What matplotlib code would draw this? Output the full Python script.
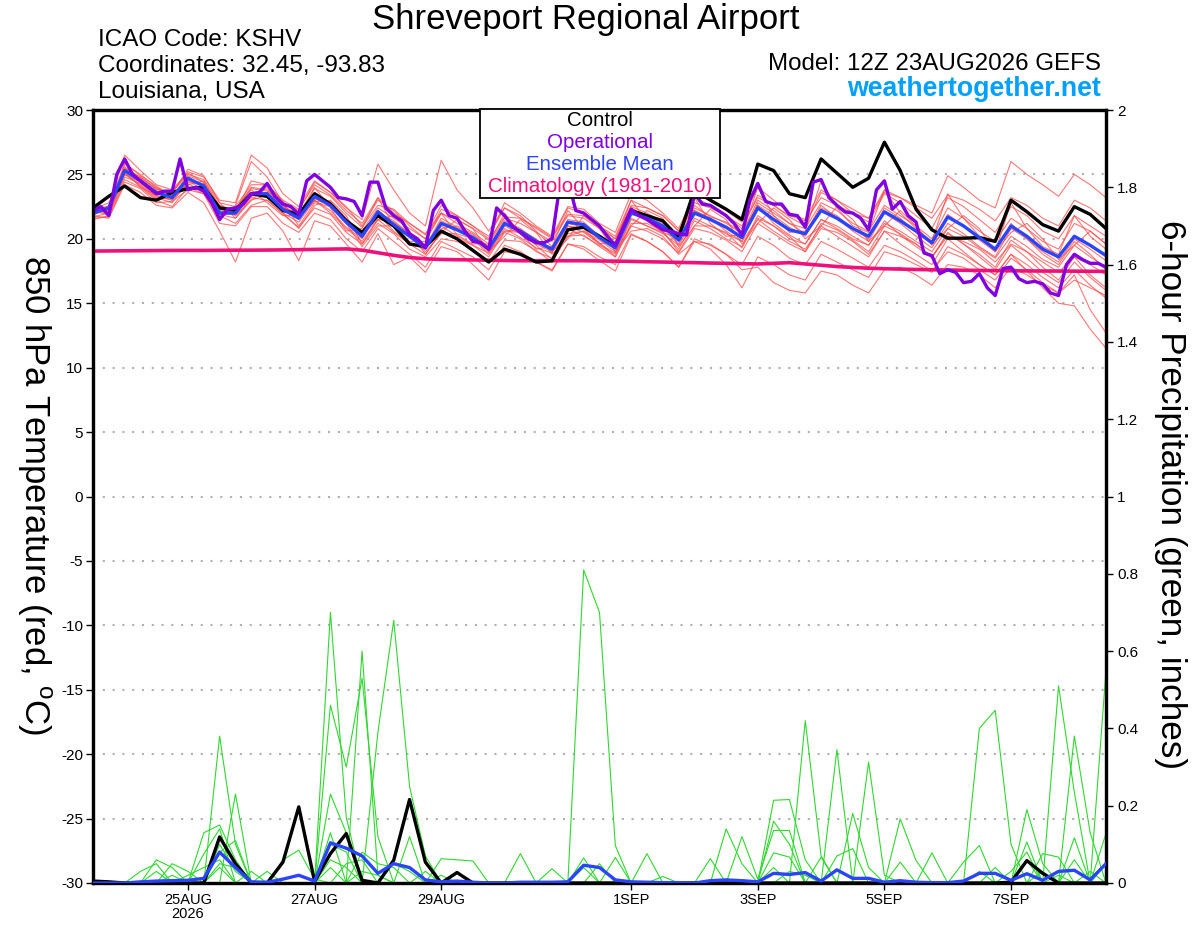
import numpy as np
import matplotlib
matplotlib.use('Agg')
import matplotlib.pyplot as plt
from matplotlib.patches import Rectangle

plt.rcParams['font.family'] = ['Liberation Sans', 'DejaVu Sans']
plt.rcParams['mathtext.fontset'] = 'custom'
plt.rcParams['mathtext.rm'] = 'Liberation Sans'
plt.rcParams['axes.unicode_minus'] = False

# TIME AXIS (hours after 12Z 23AUG2026)
hours = np.arange(0, 385, 6)
hours_op = np.arange(0, 385, 3)
tick_hours = [36, 84, 132, 204, 252, 300, 348]
tick_labels = ['25AUG\n2026', '27AUG', '29AUG', '1SEP', '3SEP', '5SEP', '7SEP']

# 850 hPa TEMPERATURE (C)
control_t = [22.4, 23.3, 24.1, 23.2, 23.0, 23.6, 23.9, 24.0, 22.4, 22.2, 23.5, 23.3, 22.2,
             21.9, 23.5, 22.7, 21.4, 20.5, 21.8, 21.0, 19.6, 19.4, 20.6, 20.0, 19.1, 18.2,
             19.2, 18.8, 18.2, 18.3, 20.7, 20.9, 20.2, 19.4, 22.2, 21.8, 21.4, 20.1, 23.8,
             23.0, 22.3, 21.5, 25.8, 25.3, 23.5, 23.2, 26.2, 25.1, 24.0, 24.7, 27.5, 25.3,
             22.3, 20.7, 20.05, 20.05, 20.1, 19.8, 23.0, 22.1, 21.1, 20.6, 22.5, 21.9, 20.8]

mean_t = [22.0, 22.4, 25.3, 24.5, 23.6, 23.2, 24.7, 24.1, 22.0, 22.0, 23.5, 23.5, 22.3,
          21.6, 23.3, 22.6, 21.3, 20.2, 22.1, 21.1, 20.2, 19.3, 21.2, 20.7, 20.1, 19.2,
          21.2, 20.6, 19.8, 19.2, 21.3, 21.1, 20.1, 19.3, 22.0, 21.6, 21.0, 19.9, 22.0,
          21.5, 20.9, 20.1, 22.4, 21.5, 20.7, 20.4, 22.2, 21.6, 20.8, 20.2, 22.1, 21.4,
          20.6, 19.7, 21.7, 21.0, 20.1, 19.2, 21.0, 20.2, 19.2, 18.6, 20.2, 19.5, 18.7]

clim_t = [19.05, 19.06, 19.07, 19.08, 19.09, 19.1, 19.1, 19.1, 19.11, 19.12, 19.12, 19.13, 19.14,
          19.16, 19.18, 19.2, 19.22, 19.12, 18.92, 18.72, 18.55, 18.45, 18.4, 18.38, 18.36, 18.34,
          18.32, 18.3, 18.3, 18.3, 18.3, 18.3, 18.28, 18.27, 18.25, 18.22, 18.2, 18.17, 18.15,
          18.12, 18.1, 18.07, 18.05, 18.1, 18.15, 18.05, 17.95, 17.85, 17.78, 17.72, 17.68, 17.65,
          17.62, 17.6, 17.58, 17.56, 17.55, 17.53, 17.52, 17.51, 17.5, 17.5, 17.49, 17.48, 17.47]

# operational run, 3-hourly
oper_t = [22.2, 22.5, 21.8, 25.0, 26.2, 25.0, 24.5, 24.0, 23.5, 23.7, 23.7, 26.2, 23.8,
          24.0, 23.7, 22.8, 21.5, 22.3, 22.4, 22.7, 23.5, 23.6, 24.3, 23.3, 22.7, 22.5,
          21.9, 24.5, 25.0, 24.5, 24.0, 23.2, 23.1, 22.9, 21.8, 24.4, 24.4, 22.4, 21.8,
          21.4, 20.4, 20.0, 19.3,
          22.2, 23.0, 21.8, 21.6, 20.6, 19.8, 19.7, 19.2, 22.4, 21.8, 21.0, 20.5, 20.0,
          19.7, 19.7, 20.0, 24.2, 24.6, 22.2, 22.0, 21.5, 21.0, 20.2, 19.5, 20.9, 22.3,
          21.8, 21.5, 21.1, 20.7, 20.6, 20.4, 20.3, 23.5, 22.7, 22.6, 22.2, 21.8, 21.2,
          20.3, 23.0, 24.3,
          22.9, 22.7, 22.7, 21.9, 21.8, 20.9, 24.4, 24.6, 23.2, 22.6, 22.1, 22.0,
          21.6, 20.7, 23.8, 24.5, 22.3, 22.9, 21.8, 21.3, 18.9, 18.7, 17.3, 17.6,
          17.4, 16.6, 16.7, 17.3, 16.2, 15.6, 17.7, 17.8, 16.9, 16.6, 16.7, 16.5,
          15.8, 15.6, 18.0, 18.8, 18.4, 18.1, 18.1, 17.8]

# ensemble members
mem01 = [22.2, 22.0, 25.8, 25.0, 24.0, 23.4, 24.2, 24.5, 22.5, 22.3, 24.0, 23.8, 22.6,
         21.8, 23.0, 22.0, 20.8, 19.8, 21.5, 20.5, 19.6, 18.8, 20.6, 20.0, 19.5, 18.6,
         20.5, 20.0, 19.0, 18.5, 20.8, 20.2, 19.5, 18.8, 21.5, 21.0, 20.5, 19.2, 21.4,
         20.8, 20.0, 19.4, 21.8, 21.0, 20.0, 19.6, 21.5, 21.0, 20.2, 19.5, 21.2, 20.6,
         19.8, 19.0, 20.8, 20.2, 19.3, 18.5, 20.2, 19.4, 18.4, 17.8, 19.5, 18.6, 17.8]
mem02 = [21.8, 22.6, 26.5, 25.3, 24.2, 23.8, 25.2, 24.8, 23.0, 22.8, 26.5, 25.5, 23.5,
         22.5, 24.5, 23.6, 22.5, 21.0, 23.0, 22.2, 21.0, 20.0, 22.3, 21.8, 21.0, 20.0,
         22.8, 22.0, 21.0, 20.2, 22.5, 22.3, 21.2, 20.5, 23.5, 23.0, 22.0, 20.8, 23.4,
         23.0, 22.2, 21.3, 24.0, 23.0, 22.0, 21.5, 23.8, 23.0, 22.0, 21.3, 23.5, 22.8,
         21.8, 20.8, 23.2, 22.5, 21.5, 20.5, 22.5, 21.8, 20.6, 20.0, 21.8, 21.0, 20.2]
mem03 = [21.5, 21.8, 24.6, 24.0, 23.0, 22.5, 24.0, 23.5, 21.2, 21.0, 22.5, 22.5, 21.2,
         20.5, 22.0, 21.5, 20.0, 19.0, 20.8, 19.8, 18.8, 17.8, 19.8, 19.2, 18.6, 17.6,
         19.5, 19.0, 18.2, 17.5, 19.6, 19.2, 18.3, 17.5, 20.3, 19.8, 19.0, 17.8, 20.0,
         19.5, 18.8, 18.0, 20.2, 19.5, 18.5, 18.0, 19.8, 19.2, 18.5, 17.8, 19.5, 19.0,
         18.3, 17.5, 19.0, 18.5, 17.6, 16.8, 18.5, 17.6, 16.6, 15.8, 17.2, 14.5, 12.7]
mem04 = [22.0, 22.2, 25.5, 24.8, 23.8, 23.6, 25.0, 24.6, 22.8, 21.6, 23.0, 24.0, 22.0,
         20.8, 22.6, 23.0, 21.8, 19.6, 21.5, 21.8, 20.6, 18.8, 20.5, 21.5, 20.8, 19.0,
         20.2, 21.5, 20.5, 18.8, 20.0, 21.8, 20.8, 19.0, 21.0, 22.2, 21.6, 19.4, 21.0,
         22.3, 21.5, 19.6, 21.2, 22.4, 21.5, 20.0, 21.0, 22.5, 21.5, 19.8, 21.0, 22.2,
         21.0, 19.5, 20.8, 21.8, 20.8, 19.0, 20.5, 21.2, 20.0, 18.4, 19.5, 20.6, 19.6]
mem05 = [22.4, 22.5, 25.0, 24.2, 23.2, 22.8, 24.5, 23.8, 21.8, 22.4, 23.8, 22.8, 21.8,
         21.8, 24.0, 22.4, 20.6, 20.8, 23.2, 21.0, 19.8, 19.8, 22.0, 20.3, 19.6, 19.6,
         22.0, 20.4, 19.2, 19.4, 22.2, 20.8, 19.6, 19.8, 23.0, 21.4, 20.5, 20.0, 23.2,
         21.2, 20.2, 20.3, 24.0, 21.8, 20.5, 20.6, 24.5, 22.4, 21.0, 20.5, 23.8, 22.0,
         20.8, 19.8, 23.5, 21.6, 20.2, 19.0, 22.8, 20.8, 19.4, 18.8, 21.8, 20.2, 19.2]
mem06 = [21.9, 22.3, 25.2, 24.7, 23.9, 23.4, 24.4, 24.3, 22.3, 22.1, 24.5, 24.2, 22.9,
         21.9, 23.9, 23.3, 22.0, 20.9, 22.6, 22.3, 21.2, 20.4, 22.0, 21.5, 20.8, 19.9,
         21.7, 21.6, 20.9, 20.1, 21.9, 21.8, 21.0, 20.0, 22.5, 22.0, 21.3, 20.3, 22.6,
         21.7, 21.3, 20.5, 22.6, 21.2, 20.3, 19.6, 21.5, 20.8, 20.0, 19.5, 21.4, 20.3,
         19.4, 18.5, 20.5, 19.6, 18.6, 17.6, 19.5, 18.5, 17.4, 16.6, 18.2, 17.0, 16.0]
mem07 = [22.1, 21.9, 25.0, 24.4, 23.4, 23.0, 24.8, 24.0, 21.9, 21.6, 23.2, 23.0, 22.0,
         21.3, 23.0, 22.2, 20.9, 20.0, 21.9, 20.6, 19.6, 19.2, 21.0, 20.2, 19.5, 18.9,
         20.8, 20.1, 19.3, 18.9, 21.0, 20.5, 19.6, 18.9, 21.6, 21.0, 20.4, 19.5, 21.6,
         21.0, 20.4, 19.8, 21.5, 20.6, 19.8, 19.2, 21.0, 20.2, 19.4, 18.6, 20.6, 19.6,
         18.8, 18.0, 20.0, 19.0, 18.0, 17.2, 18.8, 17.5, 16.2, 15.0, 14.8, 13.0, 11.5]
mem08 = [22.3, 22.8, 25.6, 24.6, 23.6, 23.4, 24.6, 24.2, 22.2, 22.0, 23.6, 23.2, 22.4,
         22.0, 23.6, 22.8, 21.5, 20.6, 22.4, 21.6, 20.8, 20.0, 22.0, 21.2, 20.5, 19.6,
         21.6, 21.2, 20.5, 19.8, 21.8, 21.6, 20.8, 20.0, 22.6, 22.4, 21.8, 20.6, 22.8,
         22.4, 21.8, 21.0, 23.2, 22.6, 21.8, 21.4, 23.2, 22.6, 22.0, 21.6, 23.6, 23.2,
         22.4, 21.6, 23.4, 23.0, 22.3, 21.4, 23.2, 22.6, 21.6, 21.0, 23.0, 22.4, 21.4]
mem09 = [22.0, 22.5, 25.4, 24.8, 23.9, 23.5, 25.4, 24.9, 22.8, 22.5, 24.2, 24.2, 23.0,
         22.3, 24.2, 23.4, 22.2, 21.2, 23.2, 22.0, 21.2, 20.3, 22.6, 21.8, 21.0, 20.2,
         22.4, 21.6, 20.8, 20.0, 22.4, 22.0, 21.0, 20.2, 23.0, 22.4, 21.8, 20.6, 23.2,
         22.6, 21.8, 20.8, 23.4, 22.6, 21.7, 21.0, 23.6, 23.0, 22.3, 21.6, 23.8, 23.2,
         22.6, 22.0, 24.9, 24.0, 23.0, 22.4, 26.0, 25.0, 24.2, 23.3, 25.0, 24.2, 23.2]
mem10 = [21.7, 22.0, 24.8, 24.3, 23.3, 23.0, 24.3, 23.6, 21.5, 22.6, 26.0, 24.8, 22.8,
         21.0, 22.8, 22.5, 21.2, 19.4, 21.0, 21.0, 20.2, 19.0, 20.4, 20.4, 20.0, 18.8,
         20.6, 20.5, 19.5, 18.4, 20.4, 20.6, 19.7, 18.6, 21.2, 21.2, 20.6, 19.0, 21.0,
         21.0, 20.5, 19.3, 21.6, 21.0, 20.2, 19.0, 20.8, 20.5, 19.8, 18.8, 20.6, 20.2,
         19.6, 18.6, 20.2, 19.8, 19.2, 18.2, 19.6, 19.0, 18.2, 17.4, 18.6, 18.0, 17.2]
mem11 = [22.2, 22.1, 25.1, 24.1, 23.1, 23.2, 24.0, 23.9, 22.4, 21.8, 23.0, 23.4, 22.6,
         21.6, 22.9, 22.9, 21.6, 20.3, 21.5, 21.3, 20.4, 19.5, 20.8, 21.0, 20.4, 19.3,
         20.6, 20.7, 20.0, 19.0, 20.2, 20.6, 19.9, 19.0, 20.6, 20.8, 20.2, 18.8, 19.8,
         19.6, 18.8, 17.6, 17.8, 16.6, 16.0, 15.8, 17.5, 17.2, 16.4, 15.8, 17.6, 17.8,
         17.2, 16.4, 18.0, 17.8, 17.2, 16.2, 17.8, 17.2, 16.4, 15.8, 16.8, 16.2, 15.6]
mem12 = [22.5, 22.4, 25.9, 24.9, 24.1, 23.3, 24.9, 24.4, 22.0, 21.9, 23.3, 23.6, 22.5,
         21.7, 23.1, 22.7, 21.4, 20.4, 22.0, 21.4, 20.4, 19.4, 21.6, 20.9, 20.3, 19.4,
         21.4, 20.8, 19.9, 19.3, 21.2, 20.9, 20.2, 19.6, 22.4, 21.7, 20.8, 19.6, 22.2,
         21.6, 20.6, 19.8, 22.6, 21.8, 20.9, 20.2, 22.4, 21.8, 20.8, 20.0, 22.4, 21.6,
         20.5, 19.6, 21.9, 21.0, 19.9, 19.0, 21.2, 20.0, 18.8, 18.0, 19.8, 18.8, 17.6]
mem13 = [22.0, 22.3, 25.2, 24.0, 23.4, 23.7, 25.1, 24.4, 22.6, 22.2, 23.9, 23.7, 22.8,
         22.2, 24.4, 23.6, 22.4, 21.5, 25.8, 23.8, 22.0, 21.0, 26.1, 23.8, 22.4, 20.6,
         22.4, 21.8, 20.6, 19.4, 21.0, 20.8, 20.0, 19.2, 22.0, 21.6, 21.0, 20.0, 22.2,
         21.6, 20.9, 20.0, 22.8, 22.0, 21.2, 20.4, 22.6, 21.6, 20.6, 19.8, 22.0, 21.2,
         20.2, 19.3, 21.2, 20.4, 19.4, 18.6, 20.8, 20.0, 19.0, 18.2, 20.0, 19.2, 18.3]
mem14 = [21.6, 21.7, 24.4, 23.9, 22.8, 22.9, 23.8, 23.5, 21.8, 21.2, 22.6, 23.0, 21.9,
         20.9, 22.4, 21.9, 20.5, 19.6, 21.2, 20.4, 19.2, 18.6, 20.0, 19.8, 19.2, 18.2,
         19.9, 19.8, 19.1, 18.2, 20.2, 20.3, 19.4, 18.6, 21.0, 20.6, 20.0, 18.9, 20.8,
         20.5, 19.9, 19.0, 21.2, 20.4, 19.6, 19.0, 21.2, 20.7, 19.9, 19.0, 21.0, 20.4,
         19.6, 18.6, 20.4, 19.6, 18.8, 17.8, 19.9, 19.0, 17.8, 16.8, 18.6, 17.2, 16.2]
mem15 = [21.8, 21.6, 24.2, 23.6, 22.6, 22.4, 23.6, 22.8, 20.6, 18.2, 21.6, 22.0, 20.6,
         18.3, 21.4, 21.0, 19.6, 18.2, 20.4, 18.0, 18.6, 17.4, 19.4, 19.0, 18.0, 16.8,
         19.0, 18.8, 18.2, 17.6, 19.6, 19.4, 18.6, 18.0, 20.4, 19.8, 19.0, 17.8, 19.8,
         19.2, 18.0, 16.2, 18.6, 18.0, 17.2, 16.8, 18.8, 18.2, 17.6, 17.0, 19.0, 18.6,
         18.0, 17.4, 19.4, 18.8, 18.0, 17.2, 18.8, 18.0, 17.0, 16.2, 17.6, 16.4, 15.4]
mem16 = [22.3, 22.2, 25.4, 24.5, 23.7, 23.1, 24.6, 24.0, 22.1, 22.1, 23.4, 23.3, 22.2,
         21.5, 23.2, 22.5, 21.2, 20.1, 22.2, 21.2, 20.2, 19.3, 21.4, 20.8, 20.0, 19.0,
         21.0, 20.4, 19.6, 19.0, 21.5, 21.3, 20.2, 19.2, 22.2, 21.8, 21.2, 20.0, 22.4,
         21.8, 21.2, 20.4, 23.0, 22.2, 21.2, 20.8, 22.8, 22.2, 21.2, 20.6, 22.6, 21.8,
         21.0, 20.0, 22.4, 21.6, 20.6, 19.8, 21.6, 20.8, 19.8, 19.2, 21.2, 20.6, 19.6]
temp_members = [mem01, mem02, mem03, mem04, mem05, mem06, mem07, mem08,
                mem09, mem10, mem11, mem12, mem13, mem14, mem15, mem16]

# 6-HOUR PRECIPITATION (inches)
control_p = [0.005, 0.003, 0, 0, 0, 0, 0, 0, 0.119, 0.05, 0, 0, 0.054,
             0.197, 0.004, 0.076, 0.128, 0.007, 0, 0.059, 0.216, 0.054, 0, 0.027, 0, 0,
             0, 0, 0, 0, 0, 0, 0, 0, 0, 0, 0, 0, 0,
             0, 0, 0, 0, 0, 0, 0, 0, 0, 0, 0, 0, 0,
             0, 0, 0, 0, 0, 0, 0.002, 0.058, 0.025, 0, 0, 0, 0]
mean_p = [0, 0, 0, 0.003, 0.005, 0.006, 0.007, 0.012, 0.08, 0.04, 0.003, 0.002, 0.01,
          0.02, 0.005, 0.104, 0.09, 0.07, 0.025, 0.05, 0.04, 0.008, 0.003, 0.005, 0.002, 0,
          0, 0.002, 0.002, 0.002, 0.003, 0.046, 0.04, 0.008, 0.003, 0.002, 0.001, 0.001, 0,
          0.006, 0.008, 0.006, 0.003, 0.025, 0.022, 0.027, 0.005, 0.034, 0.012, 0.012, 0.002, 0.006,
          0.002, 0.001, 0.001, 0.005, 0.025, 0.025, 0.007, 0.024, 0.007, 0.03, 0.033, 0.008, 0.05]

pm01 = [0, 0, 0, 0, 0, 0, 0, 0, 0.38, 0.10, 0, 0, 0,
        0, 0, 0.13, 0, 0, 0, 0, 0, 0, 0, 0, 0, 0,
        0, 0, 0, 0, 0, 0.065, 0, 0, 0, 0, 0, 0, 0,
        0, 0, 0, 0, 0, 0, 0.42, 0.07, 0, 0, 0, 0, 0,
        0, 0, 0, 0, 0, 0, 0, 0, 0, 0.51, 0.235, 0, 0]
pm02 = [0, 0, 0, 0, 0, 0, 0, 0, 0, 0.23, 0, 0, 0,
        0, 0, 0.70, 0.17, 0, 0, 0, 0, 0, 0, 0, 0, 0,
        0, 0, 0, 0, 0, 0, 0.05, 0, 0, 0, 0, 0, 0,
        0, 0, 0, 0, 0.214, 0.216, 0.06, 0, 0, 0, 0, 0, 0,
        0, 0, 0, 0, 0.40, 0.447, 0.10, 0, 0, 0, 0, 0, 0]
pm03 = [0, 0, 0, 0, 0, 0, 0, 0, 0, 0, 0, 0, 0,
        0, 0, 0, 0, 0.60, 0.02, 0, 0, 0, 0, 0, 0, 0,
        0, 0, 0, 0, 0, 0.81, 0.70, 0.097, 0, 0, 0, 0, 0,
        0, 0, 0, 0, 0, 0, 0, 0, 0.345, 0, 0, 0, 0,
        0, 0, 0, 0, 0, 0, 0, 0, 0, 0, 0, 0, 0.55]
pm04 = [0, 0, 0, 0, 0, 0, 0, 0, 0, 0, 0, 0, 0,
        0, 0, 0.46, 0.30, 0.53, 0.12, 0, 0, 0, 0, 0, 0, 0,
        0, 0, 0, 0, 0, 0, 0, 0, 0, 0, 0, 0, 0,
        0, 0.14, 0.05, 0, 0, 0, 0, 0, 0, 0, 0.313, 0.02, 0,
        0, 0, 0, 0, 0, 0, 0, 0, 0, 0, 0.38, 0.13, 0]
pm05 = [0, 0, 0, 0, 0, 0, 0, 0, 0, 0, 0, 0, 0,
        0, 0, 0, 0, 0, 0.39, 0.68, 0.25, 0.07, 0, 0, 0, 0,
        0, 0, 0, 0, 0, 0, 0, 0, 0, 0, 0, 0, 0,
        0, 0, 0, 0, 0, 0, 0, 0, 0, 0.18, 0.04, 0, 0,
        0, 0, 0, 0, 0, 0, 0, 0.19, 0.05, 0, 0, 0, 0.128]
pm06 = [0, 0, 0, 0, 0, 0, 0, 0.13, 0.15, 0.06, 0, 0, 0,
        0, 0, 0.23, 0.13, 0, 0, 0, 0.12, 0, 0, 0, 0, 0,
        0, 0, 0, 0, 0, 0, 0, 0, 0, 0, 0, 0, 0,
        0, 0, 0, 0, 0.16, 0.10, 0, 0, 0, 0, 0, 0, 0.166,
        0.058, 0, 0, 0, 0, 0, 0, 0.106, 0, 0, 0, 0, 0]
pm07 = [0, 0, 0, 0, 0.06, 0.04, 0, 0.075, 0.14, 0, 0, 0, 0.06,
        0.085, 0.01, 0, 0, 0, 0, 0, 0, 0, 0.063, 0.06, 0.057, 0,
        0, 0, 0, 0, 0, 0, 0, 0, 0, 0, 0, 0, 0,
        0, 0, 0.12, 0.01, 0.136, 0.136, 0, 0, 0, 0, 0, 0, 0,
        0, 0.078, 0, 0, 0, 0, 0, 0, 0.076, 0.067, 0, 0, 0]
pm08 = [0, 0, 0, 0, 0, 0.05, 0.03, 0, 0.10, 0.03, 0, 0.03, 0,
        0, 0, 0.10, 0.08, 0, 0, 0, 0, 0, 0, 0, 0, 0,
        0, 0.076, 0, 0.037, 0, 0, 0, 0, 0, 0.076, 0, 0, 0,
        0, 0, 0, 0, 0.078, 0.067, 0, 0, 0.07, 0.089, 0, 0, 0,
        0, 0, 0, 0.054, 0.097, 0, 0, 0, 0, 0, 0.117, 0, 0]
pm09 = [0, 0, 0, 0.03, 0.05, 0, 0, 0, 0.08, 0.11, 0, 0, 0,
        0, 0, 0, 0, 0.08, 0.05, 0.04, 0, 0, 0, 0, 0, 0,
        0, 0, 0, 0, 0, 0.04, 0, 0.066, 0, 0, 0, 0, 0,
        0.063, 0, 0, 0, 0, 0, 0, 0.067, 0, 0, 0, 0, 0,
        0, 0, 0, 0, 0, 0.04, 0, 0.06, 0, 0, 0, 0.03, 0]
pm10 = [0, 0, 0, 0, 0, 0, 0.02, 0.04, 0.06, 0, 0.03, 0, 0,
        0, 0, 0, 0.05, 0.06, 0, 0, 0, 0.03, 0, 0.03, 0, 0,
        0, 0, 0, 0, 0, 0, 0, 0, 0, 0, 0.017, 0, 0,
        0, 0, 0, 0, 0, 0, 0, 0, 0, 0, 0, 0, 0.054,
        0, 0, 0, 0, 0, 0, 0.03, 0.08, 0, 0, 0, 0, 0.05]
pm11 = [0, 0, 0, 0, 0.03, 0, 0, 0, 0.05, 0.04, 0, 0, 0,
        0, 0, 0.06, 0.04, 0, 0, 0.05, 0.03, 0, 0, 0, 0, 0,
        0, 0, 0, 0, 0, 0, 0, 0, 0, 0, 0, 0, 0,
        0, 0, 0, 0, 0, 0.03, 0.02, 0, 0, 0, 0, 0, 0,
        0, 0, 0, 0, 0, 0, 0, 0, 0.03, 0, 0.06, 0, 0]
pm12 = [0, 0, 0, 0, 0, 0.02, 0, 0, 0.04, 0, 0, 0, 0,
        0, 0, 0.04, 0, 0.03, 0.02, 0, 0, 0, 0.02, 0, 0, 0,
        0, 0, 0, 0, 0, 0, 0, 0, 0, 0, 0, 0, 0,
        0, 0, 0, 0, 0.04, 0, 0, 0, 0, 0, 0, 0, 0,
        0, 0, 0, 0, 0.03, 0, 0, 0, 0, 0.02, 0, 0, 0]
precip_members = [pm01, pm02, pm03, pm04, pm05, pm06, pm07, pm08, pm09, pm10, pm11, pm12]

temp_ticks = list(range(-30, 31, 5))
precip_ticks = [0, 0.2, 0.4, 0.6, 0.8, 1, 1.2, 1.4, 1.6, 1.8, 2]
precip_tick_labels = ['0', '0.2', '0.4', '0.6', '0.8', '1', '1.2', '1.4', '1.6', '1.8', '2']

# COLOURS
c_red = '#ff4a4a'
c_green = '#2fd82f'
c_oper = '#8000e0'
c_mean = '#2a44ff'
c_clim = '#f0107a'

W, H = 1200, 927
fig = plt.figure(figsize=(12, 9.27), dpi=100)
ax = fig.add_axes([93 / W, 1 - 883 / H, (1106 - 93) / W, (883 - 110) / H])
ax2 = ax.twinx()

# grid
for v in temp_ticks[1:-1]:
    ax.axhline(v, color='#b0b0b0', lw=1.5, ls=(0, (1, 3.7)), zorder=0.5)

# temperature
for m in temp_members:
    ax.plot(hours, m, color=c_red, lw=0.8, alpha=0.75, zorder=1)
ax.plot(hours, clim_t, color=c_clim, lw=2.6, zorder=3)
ax.plot(hours, control_t, color='black', lw=2.4, zorder=4)
ax.plot(hours, mean_t, color=c_mean, lw=2.4, zorder=5)
ax.plot(hours_op, oper_t, color=c_oper, lw=2.4, zorder=6)

# precipitation
for m in precip_members:
    ax2.plot(hours, m, color=c_green, lw=0.8, zorder=1)
ax2.plot(hours, control_p, color='black', lw=2.4, zorder=2)
ax2.plot(hours, mean_p, color=c_mean, lw=2.4, zorder=3)

ax.set_xlim(0, 384)
ax.set_ylim(-30, 30)
ax2.set_ylim(0, 2)
ax.set_xticks(tick_hours)
ax.set_xticklabels(tick_labels, fontsize=10.5, linespacing=1.05)
ax.set_yticks(temp_ticks)
ax.set_yticklabels([str(t) for t in temp_ticks], fontsize=11)
ax2.set_yticks(precip_ticks)
ax2.set_yticklabels(precip_tick_labels, fontsize=11)

ax.tick_params(axis='both', direction='out', length=5, width=1, pad=2)
ax2.tick_params(axis='y', direction='out', length=5, width=1, pad=3)
for s in ax.spines.values():
    s.set_linewidth(2.3)
for s in ax2.spines.values():
    s.set_linewidth(2.3)

# headers
fig.text(586 / W, 1 - 19 / H, 'Shreveport Regional Airport', ha='center', va='center', fontsize=25)
fig.text(98 / W, 1 - 40 / H, 'ICAO Code: KSHV', ha='left', va='center', fontsize=17.5)
fig.text(98 / W, 1 - 66 / H, 'Coordinates: 32.45, -93.83', ha='left', va='center', fontsize=17.5)
fig.text(98 / W, 1 - 92 / H, 'Louisiana, USA', ha='left', va='center', fontsize=17.5)
fig.text(1101 / W, 1 - 64 / H, 'Model: 12Z 23AUG2026 GEFS', ha='right', va='center', fontsize=17.4)
fig.text(1101 / W, 1 - 89 / H, 'weathertogether.net', ha='right', va='center', fontsize=19.3,
         fontweight='bold', color='#00a0ff')

# axis titles
fig.text(34 / W, 1 - 495 / H, r'850 hPa Temperature (red, $^{\rm o}$C)', rotation=-90,
         ha='center', va='center', fontsize=25)
fig.text(1170 / W, 1 - 495 / H, '6-hour Precipitation (green, inches)', rotation=-90,
         ha='center', va='center', fontsize=25.3)

# legend box
box = Rectangle((480 / W, 1 - 198 / H), 240 / W, 89 / H, transform=fig.transFigure,
                facecolor='white', edgecolor='black', lw=1.3, zorder=5)
fig.add_artist(box)
leg_items = [('Control', 'black'), ('Operational', c_oper),
             ('Ensemble Mean', c_mean), ('Climatology (1981-2010)', c_clim)]
for k, (txt, col) in enumerate(leg_items):
    fig.text(600 / W, 1 - (121 + 21.7 * k) / H, txt, ha='center', va='center',
             fontsize=14.8, color=col, zorder=6)

fig.savefig('out.png', dpi=100)
